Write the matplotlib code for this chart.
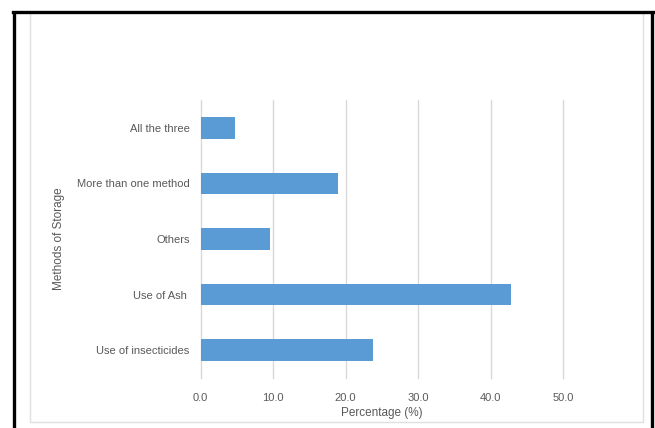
import matplotlib
matplotlib.use('Agg')
import matplotlib.pyplot as plt
from matplotlib.lines import Line2D
from matplotlib.patches import Rectangle

methods = ['Use of insecticides', 'Use of Ash ', 'Others', 'More than one method', 'All the three']
percent = [23.8, 42.8, 9.6, 19.0, 4.8]
xticks = [0, 10, 20, 30, 40, 50]

W, H = 655, 428
txt = '#595959'
plt.rcParams['font.family'] = ['Liberation Sans', 'DejaVu Sans']

fig = plt.figure(figsize=(W / 100, H / 100), dpi=100)
ax = fig.add_axes([200.7 / W, 1 - 378 / H, 362.3 / W, 278 / H])

ax.barh(range(len(methods)), percent, height=0.39, color='#5B9BD5', zorder=3)
ax.set_ylim(-0.5, len(methods) - 0.5)
ax.set_xlim(0, 50)
ax.set_xticks(xticks)
ax.set_xticklabels(['%.1f' % t for t in xticks])
ax.set_yticks(range(len(methods)))
ax.set_yticklabels(methods)
ax.tick_params(axis='both', length=0, labelsize=8, colors=txt)
ax.tick_params(axis='x', pad=11)
ax.tick_params(axis='y', pad=8)
ax.grid(axis='x', color='#d9d9d9', linewidth=1, zorder=0)
for gl in ax.get_xgridlines():
    gl.set_clip_on(False)
for s in ax.spines.values():
    s.set_visible(False)

ax.set_xlabel('Percentage (%)', fontsize=8.5, color=txt)
ax.xaxis.set_label_coords(0.5, -0.105)
ax.set_ylabel('Methods of Storage', fontsize=8.5, color=txt)
ax.yaxis.set_label_coords(-0.375, 0.5)

# chart area frame (light gray) and outer black frame
fig.add_artist(Rectangle((30 / W, 1 - 422 / H), (643 - 30) / W, (422 - 12) / H,
                         transform=fig.transFigure, fill=False,
                         edgecolor='#e0e0e0', linewidth=1))
for xs, ys in [([14, 14], [12.5, 430]), ([652, 652], [12.5, 430]), ([13, 653], [11.5, 11.5])]:
    fig.add_artist(Line2D([x / W for x in xs], [1 - y / H for y in ys],
                          transform=fig.transFigure, color='black', linewidth=2.4,
                          solid_capstyle='projecting'))

fig.savefig('out.png', dpi=100)
